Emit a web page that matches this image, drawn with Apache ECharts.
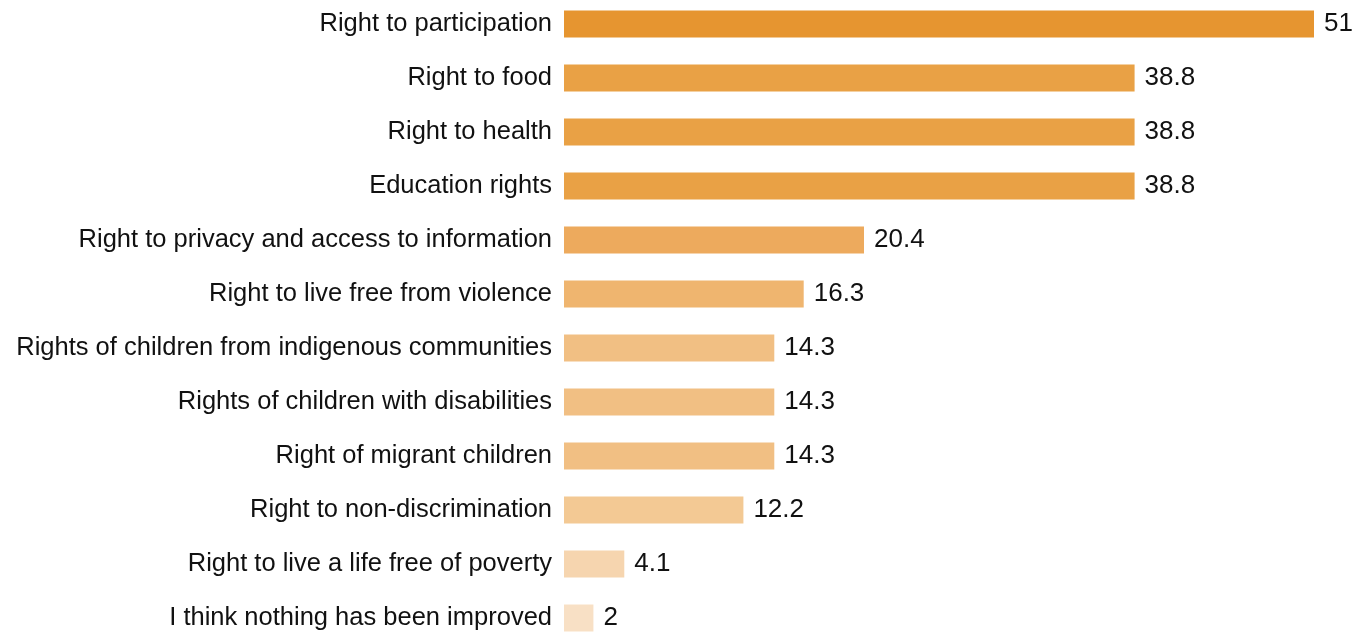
<!DOCTYPE html>
<html>
<head>
<meta charset="utf-8">
<script src="https://cdn.jsdelivr.net/npm/echarts@6/dist/echarts.min.js"></script>
<style>
  html, body { margin: 0; padding: 0; background: #ffffff; }
  #chart { width: 1357px; height: 644px; }
</style>
</head>
<body>
<div id="chart"></div>
<script>
// Rights that respondents think have improved (% of responses)
const categories = [
  'Right to participation',
  'Right to food',
  'Right to health',
  'Education rights',
  'Right to privacy and access to information',
  'Right to live free from violence',
  'Rights of children from indigenous communities',
  'Rights of children with disabilities',
  'Right of migrant children',
  'Right to non-discrimination',
  'Right to live a life free of poverty',
  'I think nothing has been improved'
];
const values = [51, 38.8, 38.8, 38.8, 20.4, 16.3, 14.3, 14.3, 14.3, 12.2, 4.1, 2];
// Bar shades fade from deep orange to pale peach
const shades = [
  '#E69530', '#E9A145', '#E9A145', '#E9A145', '#EDAA5D', '#EFB56F',
  '#F1BF83', '#F1BF83', '#F1BF83', '#F3C994', '#F6D5AF', '#F8E0C5'
];

const FONT = '"Liberation Sans", Arial, sans-serif';

const chart = echarts.init(document.getElementById('chart'), null, { renderer: 'canvas' });
chart.setOption({
  animation: false,
  grid: {
    left: 564, right: 43, top: -3, bottom: -1,
    containLabel: false,
    outerBoundsMode: 'none'
  },
  xAxis: {
    type: 'value', min: 0, max: 51, show: false
  },
  yAxis: {
    type: 'category',
    data: categories,
    inverse: true,
    axisLine: { show: false },
    axisTick: { show: false },
    splitLine: { show: false },
    axisLabel: {
      margin: 12,
      color: '#111111',
      fontSize: 25.5,
      fontFamily: FONT
    }
  },
  series: [{
    type: 'bar',
    barWidth: 27,
    data: values.map((v, i) => ({ value: v, itemStyle: { color: shades[i] } })),
    label: {
      show: true,
      position: 'right',
      distance: 10,
      color: '#111111',
      fontSize: 26,
      fontFamily: FONT
    }
  }]
});
</script>
</body>
</html>
